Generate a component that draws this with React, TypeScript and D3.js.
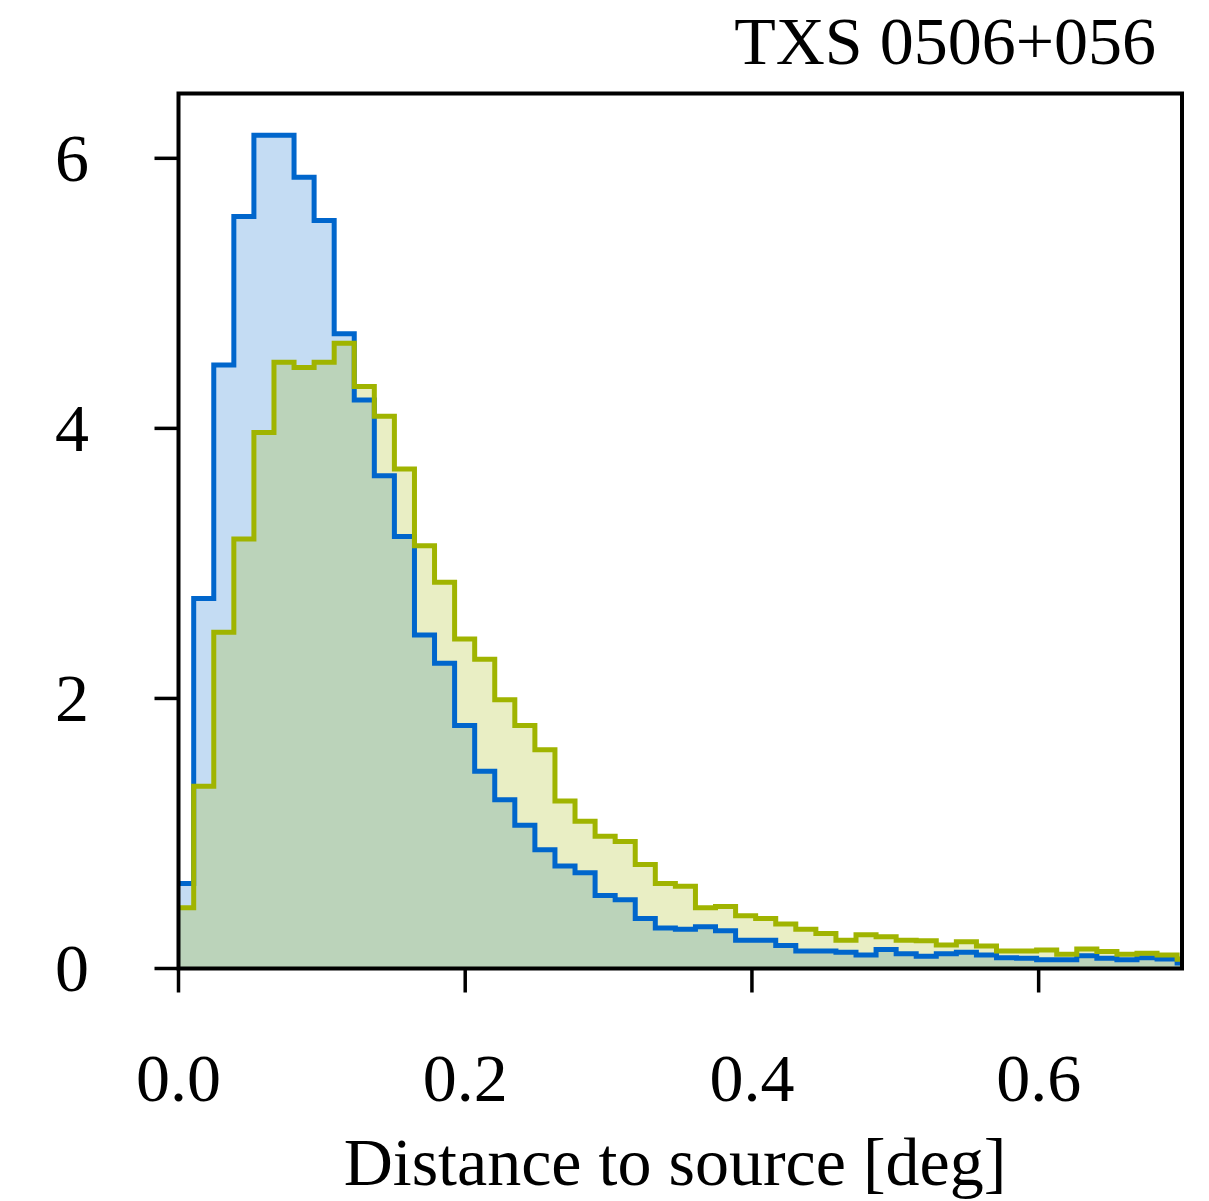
import React from "react";
import * as d3 from "d3";

// Histogram binning (degrees)
const BIN_START = -0.0034;
const BIN_WIDTH = 0.014;

// Normalised histogram heights per bin (first bin starts at BIN_START)
const blueValues = [
  0.63, 2.74, 4.47, 5.57, 6.17, 6.17, 5.86, 5.54, 4.70, 4.21,
  3.65, 3.20, 2.47, 2.26, 1.80, 1.46, 1.25, 1.06, 0.88, 0.76,
  0.71, 0.54, 0.51, 0.37, 0.30, 0.29, 0.31, 0.28, 0.21, 0.21,
  0.17, 0.13, 0.13, 0.12, 0.10, 0.14, 0.11, 0.09, 0.11, 0.12,
  0.10, 0.08, 0.075, 0.065, 0.065, 0.095, 0.075, 0.065, 0.08, 0.07,
  0.04,
];
const greenValues = [
  0.45, 1.35, 2.49, 3.18, 3.97, 4.49, 4.45, 4.49, 4.63, 4.31,
  4.09, 3.70, 3.13, 2.86, 2.44, 2.29, 1.99, 1.80, 1.62, 1.24,
  1.09, 0.98, 0.94, 0.77, 0.63, 0.61, 0.45, 0.46, 0.39, 0.37,
  0.33, 0.29, 0.26, 0.21, 0.25, 0.235, 0.21, 0.206, 0.174, 0.198,
  0.167, 0.13, 0.13, 0.137, 0.105, 0.144, 0.125, 0.105, 0.113, 0.10,
  0.068,
];

const xTicks = [0.0, 0.2, 0.4, 0.6];
const yTicks = [0, 2, 4, 6];
const title = "TXS 0506+056";
const xLabel = "Distance to source [deg]";

const X_DOMAIN: [number, number] = [0, 0.7];
const Y_DOMAIN: [number, number] = [0, 6.48];

const W = 1209;
const H = 1201;
const left = 178.5;
const right = 1182;
const top = 93.5;
const bottom = 968.5;

const BLUE = "#0066cc";
const GREEN = "#a0b400";
const FONT = "'Liberation Serif', 'DejaVu Serif', serif";

export default function App() {
  const x = d3.scaleLinear().domain(X_DOMAIN).range([left, right]);
  const y = d3.scaleLinear().domain(Y_DOMAIN).range([bottom, top]);

  const stepPoints = (vals: number[]): [number, number][] => {
    const pts: [number, number][] = [];
    vals.forEach((v, i) => {
      const x0 = BIN_START + i * BIN_WIDTH;
      const x1 = x0 + BIN_WIDTH;
      pts.push([x(x0), y(v)]);
      pts.push([x(x1), y(v)]);
    });
    return pts;
  };

  const line = d3.line<[number, number]>().x((d) => d[0]).y((d) => d[1]);

  const areaPath = (vals: number[]) => {
    const pts = stepPoints(vals);
    const first = pts[0];
    const last = pts[pts.length - 1];
    const full: [number, number][] = [[first[0], y(0)], ...pts, [last[0], y(0)]];
    return line(full) + "Z";
  };
  const outlinePath = (vals: number[]) => {
    const pts = stepPoints(vals);
    const first = pts[0];
    const last = pts[pts.length - 1];
    return line([[first[0], y(0)], ...pts, [last[0], y(0)]]) || "";
  };

  const fontSize = 68;

  return (
    <svg
      width={W}
      height={H}
      style={{ position: "absolute", left: 0, top: 0, background: "#fff" }}
    >
      <defs>
        <clipPath id="plotclip">
          <rect x={left} y={top} width={right - left} height={bottom - top} />
        </clipPath>
      </defs>
      <rect x={0} y={0} width={W} height={H} fill="#fff" />
      <g clipPath="url(#plotclip)">
        <path d={areaPath(blueValues)} fill={BLUE} fillOpacity={0.23} />
        <path d={areaPath(greenValues)} fill={GREEN} fillOpacity={0.23} />
        <path
          d={outlinePath(blueValues)}
          fill="none"
          stroke={BLUE}
          strokeWidth={5}
          strokeLinejoin="miter"
        />
        <path
          d={outlinePath(greenValues)}
          fill="none"
          stroke={GREEN}
          strokeWidth={5}
          strokeLinejoin="miter"
        />
      </g>
      {/* spines */}
      <rect
        x={left}
        y={top}
        width={right - left}
        height={bottom - top}
        fill="none"
        stroke="#000"
        strokeWidth={4}
      />
      {/* x ticks */}
      {xTicks.map((t) => (
        <g key={"x" + t}>
          <line x1={x(t)} x2={x(t)} y1={bottom} y2={bottom + 24} stroke="#000" strokeWidth={3.5} />
          <text
            x={x(t)}
            y={1101}
            textAnchor="middle"
            fontFamily={FONT}
            fontSize={fontSize}
            fill="#000"
          >
            {t.toFixed(1)}
          </text>
        </g>
      ))}
      {/* y ticks */}
      {yTicks.map((t) => (
        <g key={"y" + t}>
          <line x1={left - 24} x2={left} y1={y(t)} y2={y(t)} stroke="#000" strokeWidth={3.5} />
          <text
            x={89}
            y={y(t)}
            dy="0.33em"
            textAnchor="end"
            fontFamily={FONT}
            fontSize={fontSize}
            fill="#000"
          >
            {t}
          </text>
        </g>
      ))}
      <text
        x={675}
        y={1185}
        textAnchor="middle"
        fontFamily={FONT}
        fontSize={fontSize}
        fill="#000"
      >
        {xLabel}
      </text>
      <text
        x={1156}
        y={64}
        textAnchor="end"
        fontFamily={FONT}
        fontSize={fontSize}
        fill="#000"
      >
        {title}
      </text>
    </svg>
  );
}
